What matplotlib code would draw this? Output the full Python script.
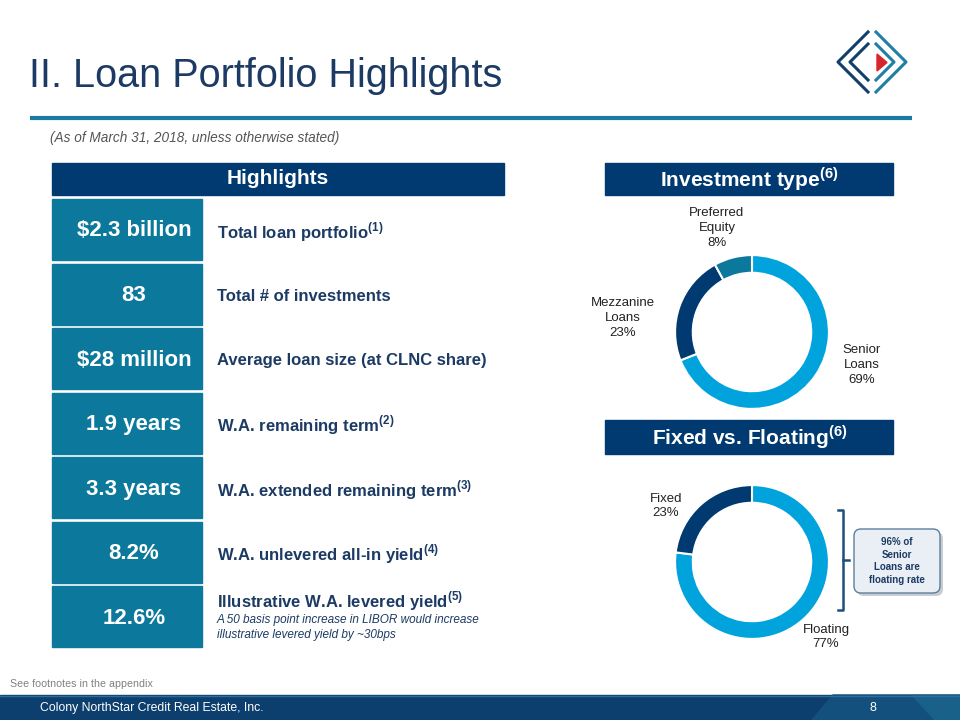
import matplotlib
matplotlib.use('Agg')
from matplotlib import pyplot as plt
from matplotlib.patches import Rectangle, FancyBboxPatch, Polygon
import numpy as np

plt.rcParams['font.family'] = ['Liberation Sans', 'DejaVu Sans']
plt.rcParams['mathtext.fontset'] = 'custom'
plt.rcParams['mathtext.rm'] = 'Liberation Sans'
plt.rcParams['mathtext.bf'] = 'Liberation Sans:bold'

# data
values = ['$2.3 billion', '83', '$28 million', '1.9 years', '3.3 years', '8.2%', '12.6%']
labels = ['Total loan portfolio', 'Total # of investments', 'Average loan size (at CLNC share)',
          'W.A. remaining term', 'W.A. extended remaining term', 'W.A. unlevered all-in yield',
          'Illustrative W.A. levered yield']
notes = ['(1)', '', '', '(2)', '(3)', '(4)', '(5)']
levered_note = ['A 50 basis point increase in LIBOR would increase',
                'illustrative levered yield by ~30bps']

inv_names = ['Senior\nLoans', 'Mezzanine\nLoans', 'Preferred\nEquity']
inv_pct = [69, 23, 8]
rate_names = ['Floating', 'Fixed']
rate_pct = [77, 23]
callout = '96% of\nSenior\nLoans are\nfloating rate'

navy = '#003a70'
teal = '#0b789c'
light = '#00a3dc'
text_navy = '#1c3a63'

fig = plt.figure(figsize=(9.6, 7.2), dpi=100)
ax = fig.add_axes([0, 0, 1, 1])
ax.set_xlim(0, 960)
ax.set_ylim(720, 0)
ax.axis('off')

# title
ax.text(29, 76, 'II. Loan Portfolio Highlights', fontsize=28.5, color='#1c3a63', va='center', ha='left')
ax.plot([30, 912], [118, 118], color='#1a7aa0', lw=3, solid_capstyle='butt')
ax.text(50, 138, '(As of March 31, 2018, unless otherwise stated)', fontsize=9.8, style='italic',
        color='#555555', va='center')

# logo
ax.plot([868, 838, 868], [32, 62, 92], color='#123f6b', lw=2.2)
ax.plot([868, 850, 868], [44, 62, 80], color='#123f6b', lw=2.2)
ax.plot([876, 906, 876], [32, 62, 92], color='#1f7fa6', lw=2.2)
ax.plot([876, 894, 876], [44, 62, 80], color='#1f7fa6', lw=2.2)
ax.add_patch(Polygon([(877, 54), (877, 71), (887, 62.5)], closed=True, color='#d7262d'))

# headers
ax.add_patch(Rectangle((52, 163), 452, 32, color=navy))
ax.text(278, 179, 'Highlights', color='white', fontsize=15, fontweight='bold', ha='center', va='center')
ax.add_patch(Rectangle((605, 163), 288, 32, color=navy))
ax.text(749, 179, r'Investment type$^{\mathbf{(6)}}$', color='white', fontsize=15, fontweight='bold',
        ha='center', va='center')
ax.add_patch(Rectangle((605, 420), 288, 34, color=navy))
ax.text(750, 437, r'Fixed vs. Floating$^{\mathbf{(6)}}$', color='white', fontsize=15, fontweight='bold',
        ha='center', va='center')

# highlight rows
for i, (v, lab, n) in enumerate(zip(values, labels, notes)):
    top = 199 + i * 64.5
    ax.add_patch(Rectangle((52, top), 150, 61, color=teal))
    ax.text(134, top + 32, v, color='white', fontsize=16, fontweight='bold', ha='center', va='center')
    s = lab
    if n:
        s = lab + r'$^{\mathbf{' + n + '}}$'
    ty = top + 33
    if i == len(values) - 1:
        ty = top + 15
    ax.text(217, ty, s, color=text_navy, fontsize=12, fontweight='bold', ha='left', va='center')

for j, line in enumerate(levered_note):
    ax.text(217, 620 + j * 15, line, color=text_navy, fontsize=8.5, style='italic', ha='left', va='center')

# donuts
def donut(cx, cy, pct, cols):
    size = 200
    pax = fig.add_axes([(cx - size / 2) / 960, 1 - (cy + size / 2) / 720, size / 960, size / 720])
    pax.pie(pct, colors=cols, startangle=90, counterclock=False, radius=1,
            wedgeprops=dict(width=0.23, edgecolor='white', linewidth=1.5))
    pax.set_xlim(-1.3, 1.3)
    pax.set_ylim(-1.3, 1.3)
    pax.set_aspect('equal')
    pax.axis('off')

donut(752, 332, inv_pct, [light, navy, teal])
donut(752, 562, rate_pct, [light, navy])

inv_pos = [(862, 365), (623, 318), (717, 228)]
for (x, y), nm, p in zip(inv_pos, inv_names, inv_pct):
    ax.text(x, y, nm + '\n' + str(p) + '%', fontsize=9.5, color='#222222', ha='center', va='center',
            linespacing=1.3)
rate_pos = [(826, 637), (666, 506)]
for (x, y), nm, p in zip(rate_pos, rate_names, rate_pct):
    ax.text(x, y, nm + '\n' + str(p) + '%', fontsize=9.5, color='#222222', ha='center', va='center',
            linespacing=1.3)

# bracket and callout
ax.plot([838, 843, 843, 838], [510, 510, 610, 610], color='#1f4e79', lw=1.8)
ax.plot([843, 849], [560, 560], color='#1f4e79', lw=1.8)
ax.add_patch(FancyBboxPatch((857, 532), 86, 64, boxstyle='round,pad=0,rounding_size=7',
                            fc='#c9ccd0', ec='none'))
ax.add_patch(FancyBboxPatch((854, 529), 86, 64, boxstyle='round,pad=0,rounding_size=7',
                            fc='#e9eff5', ec='#5c7f9e', lw=1))
ax.text(897, 561, callout, fontsize=7, fontweight='bold', color=text_navy, ha='center', va='center',
        linespacing=1.3)

# footer
ax.text(10, 684, 'See footnotes in the appendix', fontsize=7.7, color='#808080', va='center')
ax.add_patch(Rectangle((0, 695), 960, 25, color='#0d3f6e'))
ax.add_patch(Polygon([(812, 720), (833, 695), (960, 695), (960, 720)], closed=True, color='#14507e'))
ax.add_patch(Polygon([(912, 695), (960, 695), (960, 720), (935, 720)], closed=True, color='#1a6189'))
ax.plot([0, 960], [695.5, 695.5], color='#2d6e9c', lw=1)
ax.text(40, 708, 'Colony NorthStar Credit Real Estate, Inc.', fontsize=8.8, color='white', va='center')
ax.text(873, 708, '8', fontsize=9, color='white', va='center', ha='center')

fig.savefig('out.png', dpi=100)
